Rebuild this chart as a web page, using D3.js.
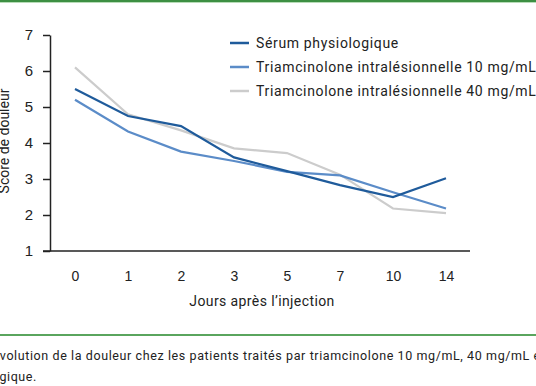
<!DOCTYPE html>
<html>
<head>
<meta charset="utf-8">
<script src="https://cdn.jsdelivr.net/npm/d3@7"></script>
<style>
  body { margin: 0; background: #fff; }
  svg { display: block; font-family: Roboto, "Open Sans", sans-serif; }
</style>
</head>
<body>
<script>
var days = ["0", "1", "2", "3", "5", "7", "10", "14"];
var serum = [5.5, 4.75, 4.47, 3.6, 3.22, 2.83, 2.5, 3.02];
var triam10 = [5.2, 4.32, 3.76, 3.5, 3.2, 3.1, 2.63, 2.18];
var triam40 = [6.1, 4.8, 4.35, 3.85, 3.72, 3.12, 2.18, 2.05];
var seriesNames = ["Sérum physiologique", "Triamcinolone intralésionnelle 10 mg/mL", "Triamcinolone intralésionnelle 40 mg/mL"];
var seriesColors = ["#1f5b9b", "#5b8cc8", "#cccccc"];
var yTicks = [1, 2, 3, 4, 5, 6, 7];

var W = 536, H = 386;
var svg = d3.select("body").append("svg")
  .attr("width", W)
  .attr("height", H);

// green rules
svg.append("rect").attr("x", 0).attr("y", 0).attr("width", W).attr("height", 2).attr("fill", "#3d8f43");
svg.append("rect").attr("x", 0).attr("y", 2).attr("width", W).attr("height", 1).attr("fill", "#b7dcb7");
svg.append("rect").attr("x", 0).attr("y", 334).attr("width", W).attr("height", 2).attr("fill", "#5aa55e");

var x = d3.scalePoint().domain(days).range([75, 446]);
var y = d3.scaleLinear().domain([1, 7]).range([251, 35]);

// y axis
var yAxis = svg.append("g")
  .attr("transform", "translate(50,0)")
  .call(d3.axisLeft(y).tickValues(yTicks).tickFormat(d3.format("d")).tickSize(7).tickPadding(10).tickSizeOuter(0));
yAxis.select(".domain").attr("stroke", "#222").attr("stroke-width", 1.5);
yAxis.selectAll(".tick line").attr("stroke", "#222").attr("stroke-width", 1.5);
yAxis.selectAll(".tick text").attr("font-size", 15).attr("fill", "#222");

// x axis
var xAxis = svg.append("g")
  .attr("transform", "translate(0,251)")
  .call(d3.axisBottom(x).tickSize(0).tickPadding(20));
xAxis.select(".domain").attr("d", "M43,0H470").attr("stroke", "#222").attr("stroke-width", 1.5);
xAxis.selectAll(".tick text").attr("font-size", 14).attr("fill", "#222");

svg.append("text")
  .attr("x", 262).attr("y", 306)
  .attr("text-anchor", "middle")
  .attr("font-size", 14).attr("letter-spacing", 0.4).attr("fill", "#222")
  .text("Jours après l’injection");

svg.append("text")
  .attr("transform", "translate(9,141) rotate(-90)")
  .attr("text-anchor", "middle")
  .attr("font-size", 14).attr("fill", "#222")
  .text("Score de douleur");

// lines
var line = d3.line()
  .x(function (d, i) { return x(days[i]); })
  .y(function (d) { return y(d); });

var allSeries = [triam40, triam10, serum];
var allColors = [seriesColors[2], seriesColors[1], seriesColors[0]];
svg.selectAll("path.series")
  .data(allSeries)
  .enter().append("path")
  .attr("class", "series")
  .attr("d", line)
  .attr("fill", "none")
  .attr("stroke", function (d, i) { return allColors[i]; })
  .attr("stroke-width", 2.2);

// legend
var legend = svg.selectAll("g.legend")
  .data(seriesNames)
  .enter().append("g")
  .attr("class", "legend")
  .attr("transform", function (d, i) { return "translate(230," + [43, 67, 91][i] + ")"; });
legend.append("line")
  .attr("x1", 0).attr("x2", 19)
  .attr("stroke", function (d, i) { return seriesColors[i]; })
  .attr("stroke-width", 2.5);
legend.append("text")
  .attr("x", 26).attr("y", 5)
  .attr("font-size", 14).attr("letter-spacing", 0.65).attr("fill", "#222")
  .text(function (d) { return d; });

// caption
var cap = svg.append("text")
  .attr("y", 360)
  .attr("font-size", 12.5).attr("letter-spacing", 0.6).attr("fill", "#222")
  .text("Évolution de la douleur chez les patients traités par triamcinolone 10 mg/mL, 40 mg/mL et sérum physiologique.");
var probe = svg.append("text").attr("font-size", 12.5).attr("letter-spacing", 0.6).text("É");
var ew = probe.node().getComputedTextLength();
probe.remove();
cap.attr("x", -ew);

svg.append("text")
  .attr("x", 37).attr("y", 381)
  .attr("text-anchor", "end")
  .attr("font-size", 12.5).attr("letter-spacing", 0.6).attr("fill", "#222")
  .text("physiologique.");
</script>
</body>
</html>
